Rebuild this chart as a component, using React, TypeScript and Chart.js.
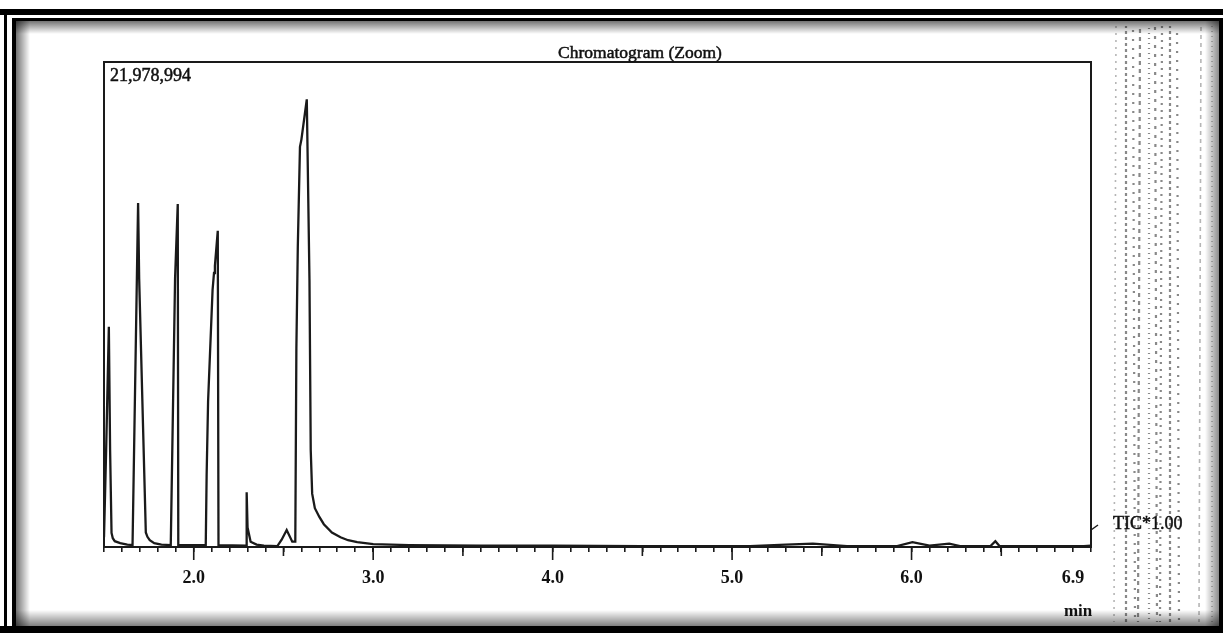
import React, { useEffect, useRef } from 'react';
import { Chart, registerables } from 'chart.js';

Chart.register(...registerables);

// ---- data ----
const Y_MAX = 21978994;
const TITLE = 'Chromatogram (Zoom)';
const TRACE_LABEL = 'TIC*1.00';
const UNIT_LABEL = 'min';
const X_MIN = 1.5;
const X_MAX = 7.0;
const TICK_LABELS = ['2.0', '3.0', '4.0', '5.0', '6.0', '6.9'];

const TIMES = [
  1.5, 1.512, 1.527, 1.534, 1.542, 1.549, 1.56, 1.59, 1.63,
  1.659, 1.69, 1.696, 1.733, 1.742, 1.755, 1.78, 1.82,
  1.872, 1.896, 1.911, 1.914,
  2.067, 2.072, 2.08, 2.093, 2.105, 2.113, 2.118, 2.134, 2.138,
  2.293, 2.295, 2.3, 2.317, 2.35, 2.391,
  2.466, 2.49, 2.518, 2.549,
  2.566, 2.572, 2.58, 2.592, 2.6, 2.63, 2.645, 2.652, 2.66, 2.675, 2.7, 2.725, 2.77, 2.818, 2.86, 2.911,
  3.0, 3.2, 3.6, 4.0, 4.5, 5.0, 5.1, 5.3, 5.45, 5.64,
  5.92, 6.005, 6.1, 6.21, 6.27, 6.44, 6.467, 6.49, 6.96, 7.0,
];

const INTENSITY = [
  440000, 4396000, 9978000, 4396000, 637000, 396000, 264000, 176000, 110000,
  88000, 15583000, 12154000, 659000, 462000, 308000, 176000, 110000,
  88000, 12154000, 15539000, 88000,
  88000, 3297000, 6594000, 9231000, 11649000, 12418000, 12747000, 14330000, 88000,
  66000, 2484000, 879000, 242000, 110000, 66000,
  44000, 330000, 769000, 242000,
  242000, 9011000, 13627000, 18133000, 18462000, 20287000, 12088000, 4396000, 2418000, 1758000, 1363000, 1033000, 659000, 440000, 308000, 220000,
  132000, 88000, 66000, 66000, 44000, 44000, 44000, 110000, 154000, 44000,
  44000, 220000, 66000, 154000, 44000, 44000, 264000, 44000, 44000, 66000,
];

// decorative scan streaks on the right margin
const STREAKS = [1116, 1126, 1133, 1140, 1149, 1155, 1162, 1170, 1177, 1201, 1212];

const INK = '#1a1a1a';
const SERIF = '"Liberation Serif", "Times New Roman", serif';

function boldText(ctx: any, s: string, x: number, y: number) {
  ctx.fillText(s, x, y);
  ctx.lineWidth = 0.5;
  ctx.strokeStyle = '#111';
  ctx.strokeText(s, x, y);
}

const framePlugin = {
  id: 'scanFrame',
  beforeDraw(chart: any) {
    const { ctx, width, height } = chart;
    ctx.save();
    ctx.fillStyle = '#ffffff';
    ctx.fillRect(0, 0, width, height);

    // scan speckle streaks
    const dashes = [[2, 5], [3, 3], [2, 7], [4, 4], [1, 4], [3, 6]];
    STREAKS.forEach((x, i) => {
      const dense = x >= 1126 && x <= 1177;
      ctx.lineWidth = dense ? 2.2 : 1.6;
      ctx.strokeStyle = dense ? 'rgba(40,40,40,0.55)' : 'rgba(70,70,70,0.4)';
      ctx.setLineDash(dashes[i % dashes.length]);
      ctx.lineDashOffset = i * 7;
      ctx.beginPath();
      ctx.moveTo(x, 26);
      ctx.lineTo(x + ((i % 3) - 1) * 2, 622);
      ctx.stroke();
    });
    ctx.setLineDash([]);

    // inner shadows
    const g1 = ctx.createLinearGradient(0, 21, 0, 34);
    g1.addColorStop(0, 'rgba(0,0,0,0.55)');
    g1.addColorStop(1, 'rgba(0,0,0,0)');
    ctx.fillStyle = g1;
    ctx.fillRect(16, 21, width - 16, 13);
    const g2 = ctx.createLinearGradient(16, 0, 30, 0);
    g2.addColorStop(0, 'rgba(0,0,0,0.55)');
    g2.addColorStop(1, 'rgba(0,0,0,0)');
    ctx.fillStyle = g2;
    ctx.fillRect(16, 21, 14, height - 28);
    const g3 = ctx.createLinearGradient(0, 626, 0, 610);
    g3.addColorStop(0, 'rgba(0,0,0,0.5)');
    g3.addColorStop(1, 'rgba(0,0,0,0)');
    ctx.fillStyle = g3;
    ctx.fillRect(16, 610, width - 16, 16);
    const g4 = ctx.createLinearGradient(1219, 0, 1205, 0);
    g4.addColorStop(0, 'rgba(0,0,0,0.45)');
    g4.addColorStop(1, 'rgba(0,0,0,0)');
    ctx.fillStyle = g4;
    ctx.fillRect(1205, 21, 14, height - 28);

    // black frame
    ctx.fillStyle = '#000';
    ctx.fillRect(0, 9, width, 6);
    ctx.fillRect(4, 9, 3, height - 9);
    ctx.fillRect(12, 18, width - 12, 3);
    ctx.fillRect(12, 18, 4, height - 18);
    ctx.fillRect(0, 626, width, 7);
    ctx.fillRect(1219, 18, 4, height - 18);
    ctx.restore();
  },
  afterDraw(chart: any) {
    const { ctx, chartArea } = chart;
    const xs = chart.scales.x;
    const ys = chart.scales.y;
    ctx.save();
    // plot box
    ctx.strokeStyle = INK;
    ctx.lineWidth = 2;
    ctx.strokeRect(chartArea.left, chartArea.top, chartArea.right - chartArea.left, chartArea.bottom - chartArea.top);

    // longer ticks at whole and half minutes
    ctx.lineWidth = 1.6;
    xs.ticks.forEach((t: any) => {
      const r = Math.round(t.value * 10);
      let len = 0;
      if (r % 10 === 0) len = 13;
      else if (r % 5 === 0) len = 9;
      if (!len || t.value <= X_MIN || t.value >= X_MAX) return;
      const px = xs.getPixelForValue(t.value);
      ctx.beginPath();
      ctx.moveTo(px, chartArea.bottom);
      ctx.lineTo(px, chartArea.bottom + len);
      ctx.stroke();
    });

    ctx.fillStyle = '#111';
    ctx.textBaseline = 'alphabetic';
    // title
    ctx.font = `17.5px ${SERIF}`;
    ctx.textAlign = 'center';
    boldText(ctx, TITLE, 640, chartArea.top - 4);
    // max intensity label
    ctx.textAlign = 'left';
    ctx.font = `18px ${SERIF}`;
    boldText(ctx, Math.round(ys.max).toLocaleString('en-US'), chartArea.left + 6, chartArea.top + 19);
    // trace label with leader
    const by = ys.getPixelForValue(ys.min) - 17;
    ctx.strokeStyle = INK;
    ctx.lineWidth = 1.5;
    ctx.beginPath();
    ctx.moveTo(chartArea.right, by);
    ctx.lineTo(chartArea.right + 7, by - 5);
    ctx.stroke();
    ctx.font = `18px ${SERIF}`;
    boldText(ctx, TRACE_LABEL, chartArea.right + 22, by - 1);
    // unit
    ctx.textAlign = 'center';
    ctx.font = `bold 17px ${SERIF}`;
    ctx.fillText(UNIT_LABEL, xs.getPixelForValue(6.9) + 5, chartArea.bottom + 69);
    ctx.restore();
  },
};

export default function App() {
  const ref = useRef<HTMLCanvasElement>(null);
  useEffect(() => {
    document.body.style.margin = '0';
    const canvas = ref.current!;
    const chart = new Chart(canvas, {
      type: 'line',
      data: {
        datasets: [
          {
            label: TRACE_LABEL,
            data: TIMES.map((t, i) => ({ x: t, y: INTENSITY[i] })),
            borderColor: INK,
            borderWidth: 2.3,
            pointRadius: 0,
            tension: 0,
            fill: false,
          },
        ],
      },
      options: {
        animation: false,
        responsive: false,
        devicePixelRatio: 1,
        layout: { padding: { left: 104, right: 132, top: 62, bottom: 0 } },
        plugins: { legend: { display: false }, tooltip: { enabled: false }, title: { display: false } },
        scales: {
          x: {
            type: 'linear',
            min: X_MIN,
            max: X_MAX,
            afterFit: (s: any) => {
              s.height = 86;
            },
            grid: { display: true, drawOnChartArea: false, drawTicks: true, tickLength: 5, color: INK, lineWidth: 1.6 },
            border: { display: true, color: INK, width: 2 },
            ticks: {
              stepSize: 0.1,
              autoSkip: false,
              maxRotation: 0,
              padding: 16,
              color: '#111',
              font: { family: SERIF, size: 18, weight: 'bold' },
              callback: (v: any) => {
                const s = (Math.round(Number(v) * 10) / 10).toFixed(1);
                return TICK_LABELS.includes(s) ? s : '';
              },
            },
          },
          y: { type: 'linear', display: false, min: 0, max: Y_MAX },
        },
      },
      plugins: [framePlugin],
    } as any);
    return () => chart.destroy();
  }, []);
  return (
    <div style={{ position: 'absolute', left: 0, top: 0, width: 1223, height: 633 }}>
      <canvas ref={ref} width={1223} height={633} style={{ display: 'block' }} />
    </div>
  );
}
